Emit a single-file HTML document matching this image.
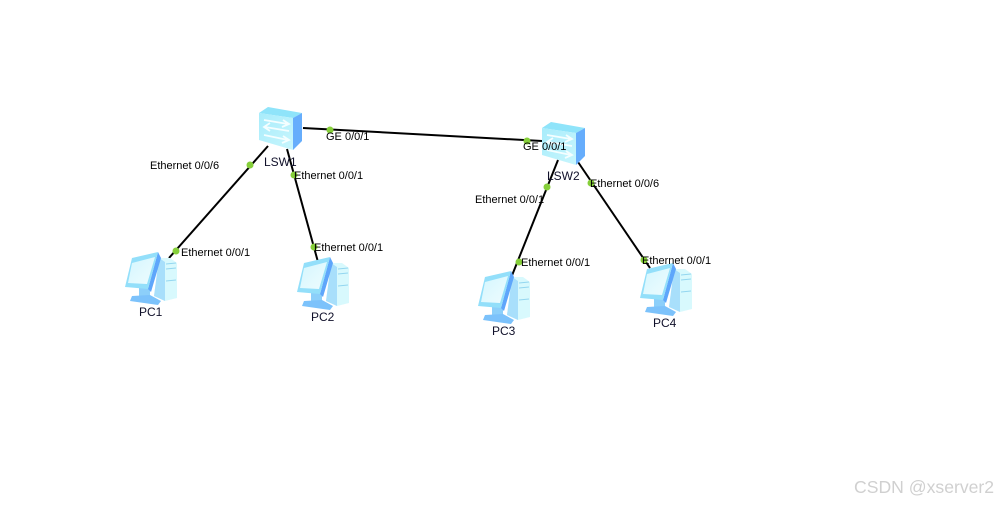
<!DOCTYPE html>
<html>
<head>
<meta charset="utf-8">
<style>
html,body{margin:0;padding:0;background:#fff;width:997px;height:505px;overflow:hidden}
svg{display:block}
text{font-family:"Liberation Sans",sans-serif;font-size:11px;fill:#000}
.n{font-size:12px;fill:#10102a}
</style>
</head>
<body>
<svg width="997" height="505" viewBox="0 0 997 505" xmlns="http://www.w3.org/2000/svg">
<defs>
<linearGradient id="front" x1="0" y1="0" x2="1" y2="1">
  <stop offset="0" stop-color="#a8ecfb"/>
  <stop offset="1" stop-color="#c8f6fd"/>
</linearGradient>
<linearGradient id="screen" x1="0" y1="0" x2="1" y2="1">
  <stop offset="0" stop-color="#d4f6fd"/>
  <stop offset="1" stop-color="#eefcff"/>
</linearGradient>
<g id="pc">
  <path d="M159 258L170 258L177 263L177 298L165 301L154 296Z" fill="#d8f9fd"/>
  <path d="M159 258L165 262L165 301L154 296Z" fill="#a8dffb"/>
  <path d="M166 264L176 263M166 269L176 268M166 281L176 280" stroke="#93d6f0" stroke-width="1" fill="none"/>
  <path d="M139 288L150 288L150 296L139 296Z" fill="#8ccffa"/>
  <path d="M132 296L150 295L161 301L158 305L130 301Z" fill="#7cc2fb"/>
  <path d="M158 252L161 258L151 292L148 289Z" fill="#5ea6fb"/>
  <path d="M132 258L158 252L148 289L125 287Z" fill="#93dffa"/>
  <path d="M132 263L155 257L147 284L128 283Z" fill="url(#screen)"/>
</g>
<g id="sw">
  <path d="M259 113L268 107L302 113L293 118Z" fill="#8fe4fa"/>
  <path d="M259 113L293 118L293 150L259 140Z" fill="url(#front)"/>
  <path d="M293 118L302 113L302 141L293 150Z" fill="#66adfc"/>
  <g stroke="#f4feff" stroke-width="1.8" fill="none">
    <path d="M264 120L288 124M283 120L289 124L282 127"/>
    <path d="M289 131L265 127M270 123L264 127L270 131"/>
    <path d="M264 135L288 140M283 136L289 140L282 143"/>
  </g>
</g>
</defs>

<g stroke="#000" stroke-width="2" fill="none">
  <line x1="303" y1="128" x2="542" y2="141"/>
  <line x1="268" y1="146" x2="169" y2="258"/>
  <line x1="287" y1="149" x2="318" y2="262"/>
  <line x1="558" y1="160" x2="511" y2="278"/>
  <line x1="578" y1="162" x2="650" y2="268"/>
</g>

<use href="#sw"/>
<use href="#sw" transform="translate(283 15)"/>

<use href="#pc"/>
<use href="#pc" transform="translate(172 5)"/>
<use href="#pc" transform="translate(353 19)"/>
<use href="#pc" transform="translate(515 11)"/>

<g fill="#86cf3a">
  <circle cx="330" cy="130" r="3.5"/>
  <circle cx="527" cy="141" r="3.5"/>
  <circle cx="250" cy="165" r="3.5"/>
  <circle cx="176" cy="251" r="3.5"/>
  <circle cx="294" cy="175" r="3.5"/>
  <circle cx="314" cy="247" r="3.5"/>
  <circle cx="547" cy="187" r="3.5"/>
  <circle cx="519" cy="262" r="3.5"/>
  <circle cx="591" cy="183" r="3.5"/>
  <circle cx="644" cy="260" r="3.5"/>
</g>

<text x="326" y="140">GE 0/0/1</text>
<text x="523" y="150">GE 0/0/1</text>
<text x="150" y="169">Ethernet 0/0/6</text>
<text x="181" y="256">Ethernet 0/0/1</text>
<text x="294" y="179">Ethernet 0/0/1</text>
<text x="314" y="251">Ethernet 0/0/1</text>
<text x="475" y="203">Ethernet 0/0/1</text>
<text x="521" y="266">Ethernet 0/0/1</text>
<text x="590" y="187">Ethernet 0/0/6</text>
<text x="642" y="264">Ethernet 0/0/1</text>

<text class="n" x="264" y="166">LSW1</text>
<text class="n" x="547" y="180">LSW2</text>
<text class="n" x="139" y="316">PC1</text>
<text class="n" x="311" y="321">PC2</text>
<text class="n" x="492" y="335">PC3</text>
<text class="n" x="653" y="327">PC4</text>

<text x="854" y="493" style="font-size:17.6px;fill:#d0d0d0">CSDN @xserver2</text>
</svg>
</body>
</html>
